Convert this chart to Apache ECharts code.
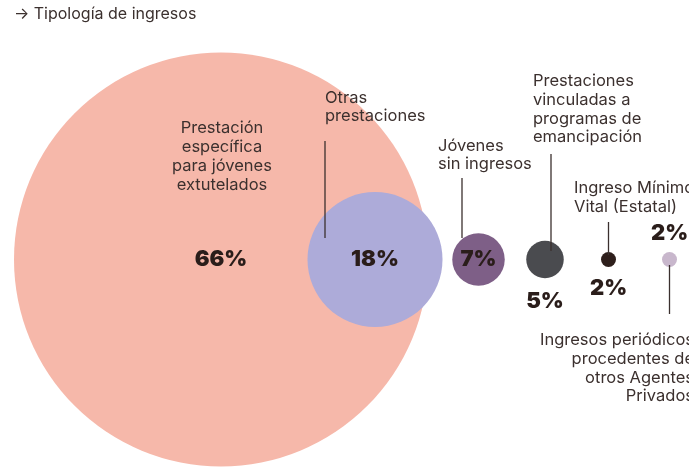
<!DOCTYPE html>
<html>
<head>
<meta charset="utf-8">
<script src="https://cdn.jsdelivr.net/npm/echarts@6/dist/echarts.min.js"></script>
<style>html,body{margin:0;padding:0;background:#fff}#c{width:689px;height:467px}</style>
</head>
<body>
<div id="c"></div>
<script>
// ---- data ----
var categories = [
  'Prestación específica para jóvenes extutelados',
  'Otras prestaciones',
  'Jóvenes sin ingresos',
  'Prestaciones vinculadas a programas de emancipación',
  'Ingreso Mínimo Vital (Estatal)',
  'Ingresos periódicos procedentes de otros Agentes Privados'
];
var values = [66, 18, 7, 5, 2, 2];
var title = '→ Tipología de ingresos';

// ---- layout / style (not data) ----
var xPos = [221, 375, 478.5, 545, 608.5, 669.5];
var baseY = 259.5;
var colors = ['#F6B8AA', '#ADABD9', '#7E5F87', '#4A4B4F', '#2E1F1C', '#C8B7CC'];
var pctOffset = [[0, 0], [0, 0], [0, 0], [0, 42], [0, 29], [0, -26]];
var TXT = '#3b302e';
var FONT = 'Inter, "Noto Sans", sans-serif';

var chart = echarts.init(document.getElementById('c'), null, {renderer: 'canvas'});

var data = values.map(function (v, i) {
  return {
    name: categories[i],
    value: [xPos[i], baseY, v],
    itemStyle: {color: colors[i], opacity: 1},
    label: {offset: pctOffset[i]}
  };
});

function txt(x, y, text, align, lh) {
  return {
    type: 'text', x: x, y: y, z: 10,
    style: {
      text: text, fill: TXT, font: '16.5px ' + FONT,
      textAlign: align, textVerticalAlign: 'top', lineHeight: lh
    }
  };
}
function vline(x, y1, y2) {
  return {type: 'line', z: 10, shape: {x1: x, y1: y1, x2: x, y2: y2},
          style: {stroke: TXT, lineWidth: 1.3}};
}

chart.setOption({
  animation: false,
  grid: {left: 0, right: 0, top: 0, bottom: 0},
  xAxis: {type: 'value', min: 0, max: 689, show: false},
  yAxis: {type: 'value', min: 0, max: 467, inverse: true, show: false},
  series: [{
    type: 'scatter',
    clip: false,
    data: data,
    symbolSize: function (val) { return Math.min(val[2] * 7.5, 414); },
    label: {
      show: true, position: 'inside',
      formatter: function (p) { return p.value[2] + '%'; },
      color: '#2a1d1a', fontSize: 22, fontWeight: 900, fontFamily: FONT
    },
    emphasis: {disabled: true}
  }],
  graphic: [
    {type: 'text', x: 14, y: 6, style: {text: title, fill: TXT, font: '16px ' + FONT, textVerticalAlign: 'top'}},
    txt(222, 118.5, 'Prestación\nespecífica\npara jóvenes\nextutelados', 'center', 19),
    txt(325, 89, 'Otras\nprestaciones', 'left', 18),
    txt(438, 137, 'Jóvenes\nsin ingresos', 'left', 18),
    txt(533, 72, 'Prestaciones\nvinculadas a\nprogramas de\nemancipación', 'left', 18.7),
    txt(574, 179, 'Ingreso Mínimo\nVital (Estatal)', 'left', 19),
    txt(694, 331, 'Ingresos periódicos\nprocedentes de\notros Agentes\nPrivados', 'right', 18.7),
    vline(325, 141, 238),
    vline(462, 178, 238),
    vline(551, 154, 251),
    vline(608.5, 222, 255),
    vline(669.5, 265, 314)
  ]
});
</script>
</body>
</html>
